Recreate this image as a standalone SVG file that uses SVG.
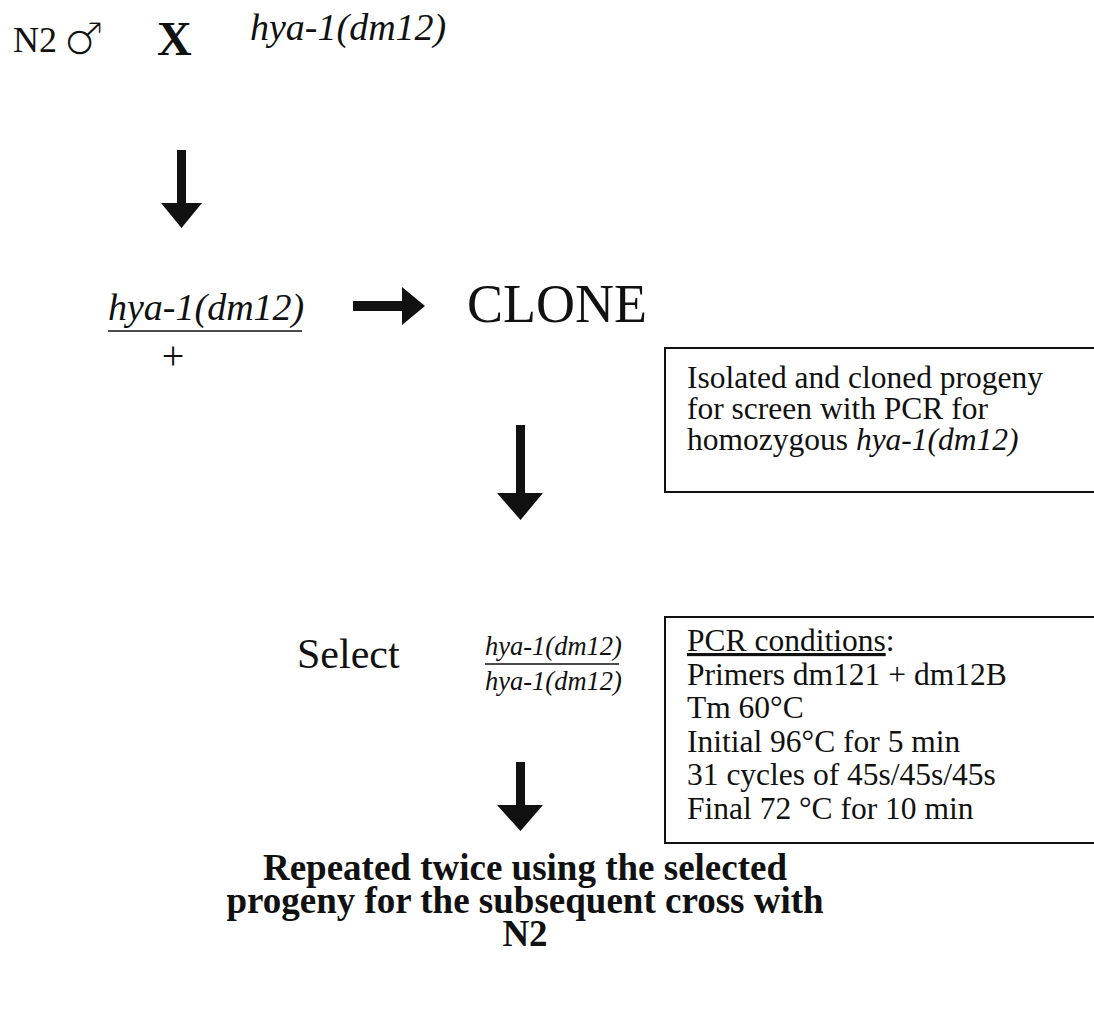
<svg xmlns="http://www.w3.org/2000/svg" width="1094" height="1018" viewBox="0 0 1094 1018">
<style>
.t{font-family:"Liberation Serif","Times New Roman",serif;fill:#111}
.i{font-style:italic}
.b{font-weight:bold}
.box{fill:none;stroke:#111;stroke-width:2}
.arr{fill:#111}
</style>
<rect width="1094" height="1018" fill="#fff"/>
<g id="cross">
<text class="t" x="13" y="52" font-size="36">N2</text>
<text x="63" y="55" font-size="46" font-family="DejaVu Serif, serif" fill="#111" stroke="#fff" stroke-width="1.6">♂</text>
<text class="t b" x="157" y="55" font-size="48">X</text>
<text class="t i" x="250" y="40" font-size="38">hya-1(dm12)</text>
</g>
<g id="heterozygote">
<text class="t i" x="108" y="320" font-size="38">hya-1(dm12)</text>
<line x1="108" y1="331" x2="302" y2="331" stroke="#111" stroke-width="1.5"/>
<text class="t" x="173" y="369" font-size="40" text-anchor="middle">+</text>
</g>
<g id="clone">
<text class="t" x="467" y="322" font-size="54">CLONE</text>
</g>
<g id="note1">
<rect class="box" x="665" y="348" width="440" height="144"/>
<text class="t" x="687" font-size="31.5"><tspan x="687" y="388">Isolated and cloned progeny</tspan><tspan x="687" y="419">for screen with PCR for</tspan><tspan x="687" y="450">homozygous <tspan class="i">hya-1(dm12)</tspan></tspan></text>
</g>
<g id="select">
<text class="t" x="297" y="668" font-size="42">Select</text>
<text class="t i" x="485" y="655" font-size="26.5">hya-1(dm12)</text>
<line x1="485" y1="664" x2="619" y2="664" stroke="#111" stroke-width="1.5"/>
<text class="t i" x="485" y="690" font-size="26.5">hya-1(dm12)</text>
</g>
<g id="note2">
<rect class="box" x="665" y="617" width="440" height="226"/>
<text class="t" font-size="31.5"><tspan x="687" y="651" text-decoration="underline">PCR conditions</tspan><tspan>:</tspan><tspan x="687" y="684.5">Primers dm121 + dm12B</tspan><tspan x="687" y="718">Tm 60°C</tspan><tspan x="687" y="751.5">Initial 96°C for 5 min</tspan><tspan x="687" y="785">31 cycles of 45s/45s/45s</tspan><tspan x="687" y="818.5">Final 72 °C for 10 min</tspan></text>
</g>
<g id="result">
<text class="t b" font-size="37" text-anchor="middle"><tspan x="525" y="880">Repeated twice using the selected</tspan><tspan x="525" y="913">progeny for the subsequent cross with</tspan><tspan x="525" y="946">N2</tspan></text>
</g>
<g id="connectors">
<path class="arr" d="M177,150 H186 V203 H202 L181.5,228 L161,203 H177 Z"/>
<path class="arr" d="M353,301 H402 V287 L425,306 L402,325 V311 H353 Z"/>
<path class="arr" d="M516,425 H525 V493 H543 L520.5,520 L497,493 H516 Z"/>
<path class="arr" d="M516,762 H525 V805 H543 L520.5,831 L497,805 H516 Z"/>
</g>
</svg>
